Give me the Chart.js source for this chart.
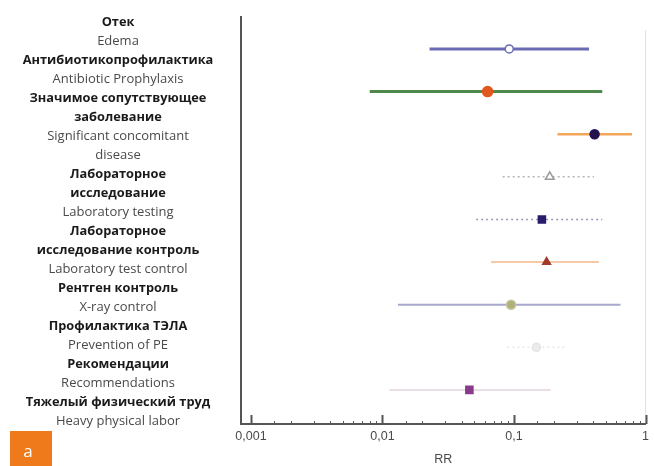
<!DOCTYPE html>
<html>
<head>
<meta charset="utf-8">
<script src="https://cdn.jsdelivr.net/npm/chart.js@4/dist/chart.umd.min.js"></script>
<style>
  html, body { margin: 0; padding: 0; background: #fff; }
  #wrap { width: 654px; height: 466px; position: relative; }
</style>
</head>
<body>
<div id="wrap"><canvas id="c" width="654" height="466"></canvas></div>
<script>
// ---- data ----
const categories = ['Edema', 'Antibiotic Prophylaxis', 'Significant concomitant disease',
  'Laboratory testing', 'Laboratory test control', 'Laboratory test control (2)',
  'X-ray control', 'Prevention of PE', 'Heavy physical labor'];
const rrValues   = [0.092, 0.063, 0.41, 0.187, 0.163, 0.177, 0.095, 0.148, 0.0458];
const lowerCI    = [0.0228, 0.0080, 0.214, 0.082, 0.0515, 0.067, 0.0131, 0.089, 0.0113];
const upperCI    = [0.372, 0.469, 0.79, 0.405, 0.469, 0.443, 0.645, 0.254, 0.19];
const xTickValues = [0.001, 0.01, 0.1, 1];
const xTickLabels = ['0,001', '0,01', '0,1', '1'];
const labelLines = [
  ['Отек', true], ['Edema', false],
  ['Антибиотикопрофилактика', true], ['Antibiotic Prophylaxis', false],
  ['Значимое сопутствующее', true], ['заболевание', true],
  ['Significant concomitant', false], ['disease', false],
  ['Лабораторное', true], ['исследование', true], ['Laboratory testing', false],
  ['Лабораторное', true], ['исследование контроль', true], ['Laboratory test control', false],
  ['Рентген контроль', true], ['X-ray control', false],
  ['Профилактика ТЭЛА', true], ['Prevention of PE', false],
  ['Рекомендации', true], ['Recommendations', false],
  ['Тяжелый физический труд', true], ['Heavy physical labor', false]
];
const axisTitle = 'RR';
const panelLetter = 'a';

// ---- styles ----
const lineColors = ['#6b6bb5', '#4f8a4a', '#f2a65a', '#b4b4b4', '#9a98b8', '#f5b88a', '#a8a8cc', '#e8e8e8', '#e2d2de'];
const lineWidths = [3, 3, 2.5, 1.5, 1.5, 1.5, 2, 1.5, 1.5];
const lineDashes = [[], [], [], [2, 3], [2, 3], [], [], [2, 3], []];
const markerStyles = ['circle', 'circle', 'circle', 'triangle', 'rect', 'triangle', 'circle', 'circle', 'rect'];
const markerFill = ['#ffffff', '#e0581e', '#24124f', '#ffffff', '#2b1b6b', '#a03a2a', '#b0b07c', '#ececec', '#8a3a8a'];
const markerBorder = ['#6b6bb5', '#e0581e', '#24124f', '#9a9a9a', '#2b1b6b', '#a03a2a', '#c4c49a', '#e4e4e4', '#8a3a8a'];
const markerRadius = [4, 5, 4.5, 5, 5, 4.5, 4.5, 4, 5];

const datasets = [];
categories.forEach((c, i) => {
  datasets.push({
    type: 'line',
    label: c + ' CI',
    data: [{x: lowerCI[i], y: i + 1}, {x: upperCI[i], y: i + 1}],
    borderColor: lineColors[i],
    borderWidth: lineWidths[i],
    borderDash: lineDashes[i],
    pointRadius: 0,
    fill: false,
    order: 2
  });
});
datasets.push({
  type: 'scatter',
  label: 'RR',
  data: rrValues.map((v, i) => ({x: v, y: i + 1})),
  pointStyle: markerStyles,
  backgroundColor: markerFill,
  borderColor: markerBorder,
  borderWidth: 1.5,
  pointRadius: markerRadius,
  order: 1
});

const isPow10 = v => Math.abs(Math.log10(v) - Math.round(Math.log10(v))) < 1e-9;

const decorPlugin = {
  id: 'decor',
  beforeDraw(chart) {
    const ctx = chart.ctx;
    ctx.save();
    ctx.textAlign = 'center';
    ctx.textBaseline = 'middle';
    labelLines.forEach((l, i) => {
      ctx.font = l[1] ? 'bold 12.8px "Open Sans"' : '13px "Open Sans"';
      ctx.fillStyle = l[1] ? '#1a1a1a' : '#4a4a4a';
      ctx.fillText(l[0], 118, 22.5 + i * 19);
    });
    // panel letter box
    ctx.fillStyle = '#ee7a1c';
    ctx.fillRect(10, 431, 42, 35);
    ctx.fillStyle = '#ffffff';
    ctx.font = '17px "Open Sans"';
    ctx.fillText(panelLetter, 28, 452);
    // faint right line at RR = 1
    const xs = chart.scales.x;
    const a = chart.chartArea;
    ctx.strokeStyle = '#e2e2e2';
    ctx.lineWidth = 1;
    const xr = Math.round(xs.getPixelForValue(1)) - 0.5;
    ctx.beginPath();
    ctx.moveTo(xr, a.top + 13);
    ctx.lineTo(xr, a.bottom);
    ctx.stroke();
    ctx.restore();
  },
  afterDraw(chart) {
    const ctx = chart.ctx;
    const xs = chart.scales.x;
    const a = chart.chartArea;
    ctx.save();
    ctx.strokeStyle = '#555';
    xs.ticks.forEach(t => {
      if (t.value < 0.001 - 1e-12) return;
      const major = isPow10(t.value);
      const px = Math.round(xs.getPixelForValue(t.value)) + 0.5;
      ctx.lineWidth = major ? 2 : 1;
      ctx.beginPath();
      ctx.moveTo(px, a.bottom);
      ctx.lineTo(px, a.bottom - (major ? 9 : 3));
      ctx.stroke();
    });
    ctx.restore();
  }
};

new Chart(document.getElementById('c'), {
  data: { datasets },
  plugins: [decorPlugin],
  options: {
    responsive: false,
    animation: false,
    layout: { padding: { left: 241, right: 5, top: 17, bottom: 0 } },
    plugins: { legend: { display: false }, tooltip: { enabled: false } },
    scales: {
      x: {
        type: 'logarithmic',
        min: 0.00084,
        max: 1,
        grid: { display: false, drawTicks: false },
        border: { display: true, color: '#555', width: 2 },
        ticks: {
          autoSkip: false, maxRotation: 0, padding: 5,
          color: '#4a4a4a',
          font: { family: '"Liberation Sans", Arial', size: 12.5 },
          callback: (v) => {
            const k = xTickValues.findIndex(t => Math.abs(Math.log10(t) - Math.log10(v)) < 1e-6);
            return k >= 0 ? xTickLabels[k] : '';
          }
        },
        title: {
          display: true, text: axisTitle, color: '#4a4a4a',
          font: { family: '"Liberation Sans", Arial', size: 12.5 },
          padding: { top: 4, bottom: -1 }
        },
        afterFit: s => { s.height = 42; }
      },
      y: {
        type: 'linear',
        reverse: true,
        min: 0.25,
        max: 9.8,
        grid: { display: false },
        border: { display: true, color: '#555', width: 2 },
        ticks: { display: false },
        afterFit: s => { s.width = 0; }
      }
    }
  }
});
</script>
</body>
</html>
